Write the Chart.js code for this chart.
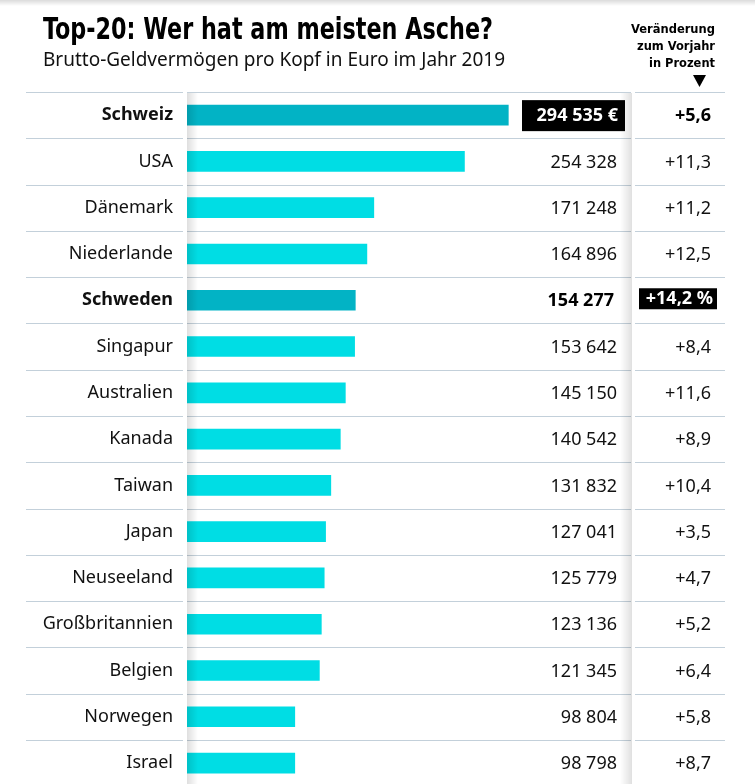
<!DOCTYPE html>
<html>
<head>
<meta charset="utf-8">
<script src="https://cdn.jsdelivr.net/npm/chart.js@4.4.1/dist/chart.umd.min.js"></script>
<style>
  html, body { margin: 0; padding: 0; background: #fff; overflow: hidden; }
  #wrap { position: relative; width: 755px; height: 811px; }
</style>
</head>
<body>
<div id="wrap"><canvas id="assetChart"></canvas></div>
<script>
/* ================= DATA ================= */
var countries = [
    "Schweiz", "USA", "Dänemark", "Niederlande", "Schweden",
    "Singapur", "Australien", "Kanada", "Taiwan", "Japan",
    "Neuseeland", "Großbritannien", "Belgien", "Norwegen", "Israel"
];
var assets = [
    294535, 254328, 171248, 164896, 154277,
    153642, 145150, 140542, 131832, 127041,
    125779, 123136, 121345, 98804, 98798
];
var changePct = [
    5.6, 11.3, 11.2, 12.5, 14.2,
    8.4, 11.6, 8.9, 10.4, 3.5,
    4.7, 5.2, 6.4, 5.8, 8.7
];
var highlighted = ["Schweiz", "Schweden"];

var titleText = "Top-20: Wer hat am meisten Asche?";
var subtitleText = "Brutto-Geldvermögen pro Kopf in Euro im Jahr 2019";
var headerLines = ["Veränderung", "zum Vorjahr", "in Prozent"];

/* ================= HELPERS ================= */
var LINE_COLOR = "#c3d0da";
var SANS = "'Noto Sans', 'Open Sans', sans-serif";
var COND = "'DejaVu Sans Condensed', 'Liberation Sans Narrow', 'DejaVu Sans', sans-serif";

function isHi(i) { return highlighted.indexOf(countries[i]) !== -1; }
function fmtNum(v) { return String(v).replace(/\B(?=(\d{3})+(?!\d))/g, " "); }
function fmtPct(v) { return "+" + v.toFixed(1).replace(".", ","); }

/* ================= DECORATION PLUGIN ================= */
var tablePlugin = {
    id: "tablePlugin",
    beforeDatasetsDraw: function (chart) {
        var ctx = chart.ctx;
        var area = chart.chartArea;
        ctx.save();
        // row separator lines
        ctx.strokeStyle = LINE_COLOR;
        ctx.lineWidth = 1;
        for (var i = 0; i <= countries.length; i++) {
            var py = Math.round(area.top + i * (area.bottom - area.top) / countries.length) + 0.5;
            ctx.beginPath();
            ctx.moveTo(26, py); ctx.lineTo(183, py);
            ctx.moveTo(187, py); ctx.lineTo(631, py);
            ctx.moveTo(635, py); ctx.lineTo(725, py);
            ctx.stroke();
        }
        ctx.restore();
    },
    afterDatasetsDraw: function (chart) {
        var ctx = chart.ctx;
        var area = chart.chartArea;
        var y = chart.scales.y;
        ctx.save();

        // left shade of bar area
        var g = ctx.createLinearGradient(187, 0, 198, 0);
        g.addColorStop(0, "rgba(0,0,0,0.13)");
        g.addColorStop(1, "rgba(0,0,0,0)");
        ctx.fillStyle = g;
        ctx.fillRect(187, area.top + 1, 11, chart.height - area.top);

        // right shade toward the change column
        var g2 = ctx.createLinearGradient(620, 0, 632, 0);
        g2.addColorStop(0, "rgba(0,0,0,0)");
        g2.addColorStop(1, "rgba(0,0,0,0.12)");
        ctx.fillStyle = g2;
        ctx.fillRect(620, area.top + 1, 12, chart.height - area.top);

        // top shadow
        var g3 = ctx.createLinearGradient(0, 0, 0, 6);
        g3.addColorStop(0, "rgba(0,0,0,0.14)");
        g3.addColorStop(1, "rgba(0,0,0,0)");
        ctx.fillStyle = g3;
        ctx.fillRect(0, 0, chart.width, 6);

        // values and change column
        ctx.textBaseline = "middle";
        ctx.textAlign = "right";
        countries.forEach(function (c, i) {
            var cy = y.getPixelForValue(i);
            var val = fmtNum(assets[i]);
            var pct = fmtPct(changePct[i]);
            if (i === 0) {
                ctx.fillStyle = "#000";
                ctx.fillRect(522, cy - 15, 103, 31);
                ctx.fillStyle = "#fff";
                ctx.font = "bold 18px " + SANS;
                ctx.fillText(val + " €", 618, cy + 1, 90);
                ctx.fillStyle = "#000";
                ctx.fillText(pct, 711, cy + 1);
            } else if (isHi(i)) {
                ctx.fillStyle = "#000";
                ctx.font = "bold 18px " + SANS;
                ctx.fillText(val, 614, cy + 1, 70);
                ctx.fillRect(639, cy - 12, 78, 21);
                ctx.fillStyle = "#fff";
                ctx.fillText(pct + " %", 713, cy - 1, 70);
            } else {
                ctx.fillStyle = "#111";
                ctx.font = "18px " + SANS;
                ctx.fillText(val, 617, cy + 1, 70);
                ctx.fillText(pct, 711, cy + 1);
            }
        });

        // titles
        ctx.textAlign = "left";
        ctx.textBaseline = "alphabetic";
        ctx.fillStyle = "#000";
        ctx.font = "bold 30px " + COND;
        ctx.fillText(titleText, 43, 39, 450);
        ctx.fillStyle = "#111";
        ctx.font = "19px " + SANS;
        ctx.fillText(subtitleText, 43, 66, 462);

        // header of change column
        ctx.textAlign = "right";
        ctx.font = "bold 13px " + COND;
        ctx.fillStyle = "#000";
        ctx.fillText(headerLines[0], 715, 33, 84);
        ctx.fillText(headerLines[1], 715, 50, 78);
        ctx.fillText(headerLines[2], 715, 67, 66);
        ctx.beginPath();
        ctx.moveTo(693, 75); ctx.lineTo(706, 75); ctx.lineTo(699.5, 87);
        ctx.closePath();
        ctx.fill();
        ctx.restore();
    }
};

/* ================= CHART ================= */
var barColors = countries.map(function (c, i) { return isHi(i) ? "#02b3c5" : "#00dde4"; });

new Chart(document.getElementById("assetChart"), {
    type: "bar",
    data: {
        labels: countries,
        datasets: [{
            data: assets,
            backgroundColor: barColors,
            borderWidth: 0,
            barThickness: 20
        }]
    },
    options: {
        indexAxis: "y",
        responsive: true,
        maintainAspectRatio: false,
        animation: false,
        layout: { padding: { top: 92, right: 124, bottom: 2, left: 0 } },
        plugins: { legend: { display: false }, tooltip: { enabled: false } },
        scales: {
            x: { display: false, min: 0, max: 407000 },
            y: {
                grid: { display: false, drawTicks: false },
                border: { display: false },
                afterFit: function (scale) { scale.width = 187; },
                ticks: {
                    padding: 14,
                    color: "#111",
                    font: function (c) {
                        return { family: SANS, size: 18, weight: isHi(c.index) ? "bold" : "normal" };
                    }
                }
            }
        }
    },
    plugins: [tablePlugin]
});
</script>
</body>
</html>
